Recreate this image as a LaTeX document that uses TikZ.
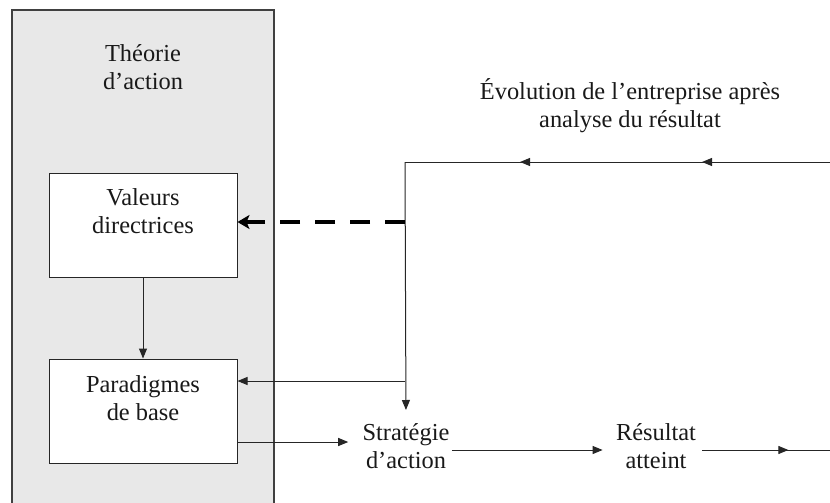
\documentclass[tikz,border=0pt]{standalone}
\usepackage{fontspec}
\setmainfont{Liberation Serif}
\usetikzlibrary{arrows.meta,decorations.markings}
\begin{document}
\begin{tikzpicture}[x=0.5pt,y=-0.5pt,
  font=\fontsize{12.2}{14}\selectfont,
  every node/.style={text=black!90},
  txt/.style={align=center, inner sep=0pt},
  boxnode/.style={draw=black!85, fill=white, line width=0.5pt, minimum width=94pt, minimum height=52pt, inner sep=0pt},
  conn/.style={draw=black!85, line width=0.5pt},
  tip/.style={-{Triangle[length=5pt,width=4pt]}},
  twotips/.style 2 args={postaction={decorate}, decoration={markings,
      mark=at position #1 with {\arrow{Triangle[length=5pt,width=4pt]}},
      mark=at position #2 with {\arrow{Triangle[length=5pt,width=4pt]}}}},
  onetip/.style={postaction={decorate}, decoration={markings, mark=at position #1 with {\arrow{Triangle[length=5pt,width=4pt]}}}},
  dashconn/.style={draw=black, line width=2pt, dash pattern=on 10pt off 7.5pt, -{Stealth[length=6pt,width=7pt,inset=1.5pt]}}
]
\useasboundingbox (0,0) rectangle (830,503);
% panel
\fill[black!9] (12,10) rectangle (274,505);
\draw[black!75, line width=0.6pt] (12,505) -- (12,10) -- (274,10) -- (274,505);
\node[txt] (theorie) at (143,67) {Théorie\\d’action};
% boxes
\node[boxnode, label={[txt, yshift=7pt]center:Valeurs\\directrices}] (val) at (143,225) {};
\node[boxnode, label={[txt, yshift=6.5pt]center:Paradigmes\\de base}] (par) at (143,411) {};
% free text
\node[txt] (evol) at (630,106) {Évolution de l’entreprise après\\analyse du résultat};
\node[txt] (strat) at (406,446) {Stratégie\\d’action};
\node[txt] (res) at (656,446) {Résultat\\atteint};
% coordinates
\coordinate (tr) at (830,162);
\coordinate (top) at (405,162);
\coordinate (jd) at (405,222);
\coordinate (jp) at (405,381);
\coordinate (pe) at (237,442);
\coordinate (out) at (830,450);
% connectors
\draw[conn, twotips={64pt}{155pt}] (tr) -- (top);
\draw[conn, tip, shorten >=6.5pt] (top) -- (strat.north);
\draw[dashconn] (jd) -- (jd -| val.east);
\draw[conn, tip] (jp) -- (jp -| par.east);
\draw[conn, tip] (val.south) -- (par.north);
\draw[conn, tip, shorten >=7pt] (pe) -- (pe -| strat.west);
\draw[conn, tip, shorten >=6.5pt, shorten <=1pt] ([yshift=-2pt]strat.east) -- ([yshift=-2pt]res.west);
\draw[conn, onetip=46pt, shorten <=3pt] ([yshift=-2pt]res.east) -- (out);
\end{tikzpicture}
\end{document}
